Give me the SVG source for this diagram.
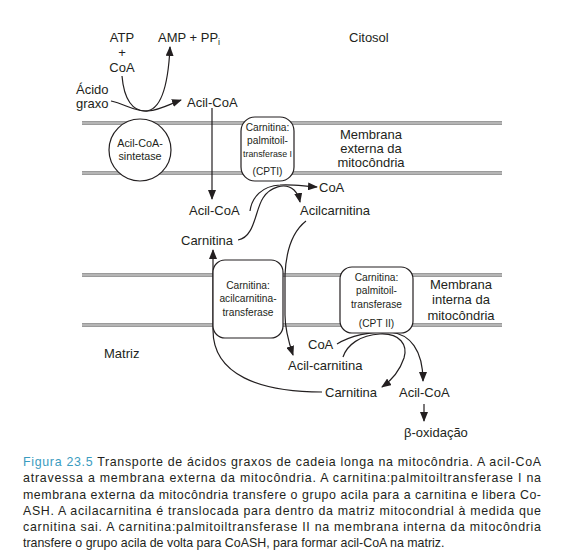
<svg xmlns="http://www.w3.org/2000/svg" width="562" height="556" viewBox="0 0 562 556">
<style>
text{font-family:"Liberation Sans",Arial,sans-serif;fill:#231f20}
.lb{font-size:13px}
.bx{font-size:10.2px}
.cap{font-size:12.4px}
.mem{stroke:#9b9b9b;stroke-width:4;fill:none}
.memc{stroke:#cfcfcf;stroke-width:1;fill:none}
.node{fill:#fff;stroke:#231f20;stroke-width:1.2}
.c{fill:none;stroke:#231f20;stroke-width:1.2;marker-end:url(#ah)}
</style>
<defs>
<marker id="ah" markerUnits="userSpaceOnUse" markerWidth="10" markerHeight="8" refX="9" refY="4" orient="auto">
<path d="M0,0 L10,4 L0,8 z" fill="#231f20"/>
</marker>
</defs>
<rect width="562" height="556" fill="#fff"/>
<g id="membranes">
<line class="mem" x1="82" y1="123" x2="502" y2="123"/><line class="memc" x1="82" y1="123" x2="502" y2="123"/>
<line class="mem" x1="82" y1="173" x2="502" y2="173"/><line class="memc" x1="82" y1="173" x2="502" y2="173"/>
<line class="mem" x1="82" y1="275" x2="502" y2="275"/><line class="memc" x1="82" y1="275" x2="502" y2="275"/>
<line class="mem" x1="82" y1="325" x2="502" y2="325"/><line class="memc" x1="82" y1="325" x2="502" y2="325"/>
</g>
<g id="connectors">
<path class="c" d="M122,76 C124,100 133,111 145,111 C160,111 168,90 170,47"/>
<path class="c" d="M111,101 C125,104 135,112 148,111 C160,110 170,104 181,100"/>
<path class="c" d="M212,108 L212,199"/>
<path class="c" d="M250,211 C252,197 262,186 280,185 C292,184 302,186 317,187"/>
<path class="c" d="M238,240 C255,237 255,210 263,198 C270,187 285,182 294,190 C297,193 299,197 300,202"/>
<path class="c" d="M306,221 C292,232 286,250 285,275 L285,315 C285,330 289,343 293,355"/>
<path class="c" d="M322,392 C260,392 213,375 213,330 L213,250"/>
<path class="c" d="M337,344 C350,336 370,331 390,332 C410,334 423,350 423,381"/>
<path class="c" d="M343,357 C347,345 360,335 380,334 C400,333 408,345 404,358 C400,370 392,380 382,387"/>
<path class="c" d="M424,404 L424,421"/>
</g>
<g id="sintetase">
<circle class="node" cx="140" cy="150" r="31"/>
<text x="140" y="147" text-anchor="middle" style="font-size:10.8px">Acil-CoA-</text>
<text x="140" y="160" text-anchor="middle" style="font-size:10.8px">sintetase</text>
</g>
<g id="cpt1">
<rect class="node" x="241" y="117" width="53" height="64" rx="14"/>
<text class="bx" x="267.5" y="131" text-anchor="middle">Carnitina:</text>
<text class="bx" x="267.5" y="144" text-anchor="middle">palmitoil-</text>
<text class="bx" x="267.5" y="157" text-anchor="middle" style="font-size:9.6px" textLength="49" lengthAdjust="spacingAndGlyphs">transferase I</text>
<text class="bx" x="267.5" y="175" text-anchor="middle">(CPTI)</text>
</g>
<g id="translocase">
<rect class="node" x="213" y="260" width="70" height="78" rx="12"/>
<text class="bx" x="248" y="289" text-anchor="middle">Carnitina:</text>
<text class="bx" x="248" y="302" text-anchor="middle">acilcarnitina-</text>
<text class="bx" x="248" y="316" text-anchor="middle">transferase</text>
</g>
<g id="cpt2">
<rect class="node" x="340" y="267" width="73" height="66" rx="12"/>
<text class="bx" x="376.5" y="281" text-anchor="middle">Carnitina:</text>
<text class="bx" x="376.5" y="294" text-anchor="middle">palmitoil-</text>
<text class="bx" x="376.5" y="308" text-anchor="middle">transferase</text>
<text class="bx" x="376.5" y="327" text-anchor="middle">(CPT II)</text>
</g>
<g id="labels">
<text class="lb" x="122" y="42" text-anchor="middle">ATP</text>
<text class="lb" x="122" y="57" text-anchor="middle">+</text>
<text class="lb" x="122" y="72" text-anchor="middle">CoA</text>
<text class="lb" x="158" y="42">AMP + PP<tspan dy="3" style="font-size:9px">i</tspan></text>
<text class="lb" x="349" y="42">Citosol</text>
<text class="lb" x="76" y="94">Ácido</text>
<text class="lb" x="76" y="108">graxo</text>
<text class="lb" x="187" y="107">Acil-CoA</text>
<text class="lb" x="371" y="139" text-anchor="middle">Membrana</text>
<text class="lb" x="371" y="153" text-anchor="middle">externa da</text>
<text class="lb" x="371" y="167" text-anchor="middle">mitocôndria</text>
<text class="lb" x="319" y="192">CoA</text>
<text class="lb" x="189" y="215">Acil-CoA</text>
<text class="lb" x="300" y="215">Acilcarnitina</text>
<text class="lb" x="181" y="245">Carnitina</text>
<text class="lb" x="461" y="289" text-anchor="middle">Membrana</text>
<text class="lb" x="461" y="304" text-anchor="middle">interna da</text>
<text class="lb" x="461" y="320" text-anchor="middle">mitocôndria</text>
<text class="lb" x="104" y="358">Matriz</text>
<text class="lb" x="308" y="349">CoA</text>
<text class="lb" x="288" y="370">Acil-carnitina</text>
<text class="lb" x="325" y="397">Carnitina</text>
<text class="lb" x="399" y="397">Acil-CoA</text>
<text class="lb" x="404" y="437">β-oxidação</text>
</g>
<g id="caption">
<text class="cap" x="23" y="466" textLength="518" lengthAdjust="spacing"><tspan style="fill:#3a9cc0">Figura 23.5</tspan> Transporte de ácidos graxos de cadeia longa na mitocôndria. A acil-CoA</text>
<text class="cap" x="23" y="482" textLength="518" lengthAdjust="spacing">atravessa a membrana externa da mitocôndria. A carnitina:palmitoiltransferase I na</text>
<text class="cap" x="23" y="499" textLength="518" lengthAdjust="spacing">membrana externa da mitocôndria transfere o grupo acila para a carnitina e libera Co-</text>
<text class="cap" x="23" y="515" textLength="518" lengthAdjust="spacing">ASH. A acilacarnitina é translocada para dentro da matriz mitocondrial à medida que</text>
<text class="cap" x="23" y="531" textLength="518" lengthAdjust="spacing">carnitina sai. A carnitina:palmitoiltransferase II na membrana interna da mitocôndria</text>
<text class="cap" x="23" y="547">transfere o grupo acila de volta para CoASH, para formar acil-CoA na matriz.</text>
</g>
</svg>
